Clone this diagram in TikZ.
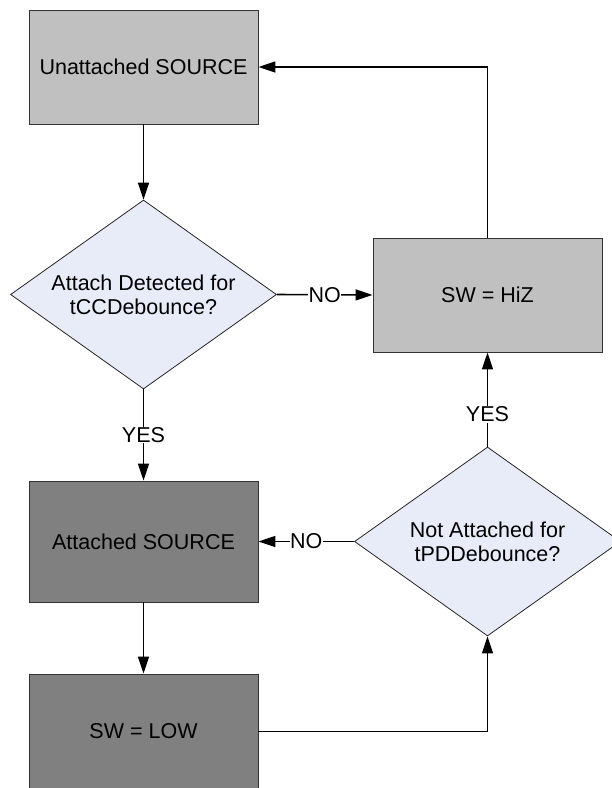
\documentclass[tikz,border=0pt]{standalone}
\usepackage{fontspec}
\setmainfont{Liberation Sans}
\usetikzlibrary{shapes.geometric,arrows.meta}
\definecolor{lightbox}{HTML}{C0C0C0}
\definecolor{darkbox}{HTML}{808080}
\definecolor{diafill}{HTML}{E8ECF8}
\begin{document}
\begin{tikzpicture}[x=1pt,y=-1pt,
  every node/.style={font=\fontsize{21.5}{24}\selectfont},
  box/.style={draw=black!80, line width=0.9pt, rectangle, inner sep=0pt, minimum width=229pt, align=center},
  dia/.style={draw=black!85, line width=0.8pt, diamond, fill=diafill, inner sep=0pt, shape aspect=1.41, minimum width=266pt, minimum height=189pt, align=center},
  conn/.style={line width=1.6pt, -{Triangle[length=17pt,width=11pt]}},
  lbl/.style={fill=white, inner sep=0.6pt}]
\useasboundingbox (0,0) rectangle (612,788);
\node[box, fill=lightbox, minimum height=114pt] (b1) at (143.5,67) {Unattached SOURCE};
\node[box, fill=lightbox, minimum height=114pt] (b2) at (487.5,295) {SW = HiZ};
\node[box, fill=darkbox, minimum height=121pt] (b3) at (143.5,541.5) {Attached SOURCE};
\node[box, fill=darkbox, minimum height=115pt] (b4) at (143.5,731.5) {SW = LOW};
\node[dia] (d1) at (143.5,294.5) {Attach Detected for\\tCCDebounce?};
\node[dia] (d2) at (487.5,541.5) {Not Attached for\\tPDDebounce?};
\draw[conn] (b1.south) -- (d1.north);
\draw[conn] (d1.east) -- node[lbl] {NO} (b2.west);
\draw[conn] (d1.south) -- node[lbl] {YES} (b3.north);
\draw[conn] (b3.south) -- (b4.north);
\draw[conn] (b4.east) -| (d2.south);
\draw[conn] (d2.west) -- node[lbl] {NO} (b3.east);
\draw[conn] (d2.north) -- node[lbl, pos=0.34] {YES} (b2.south);
\draw[conn] (b2.north) |- (b1.east);
\end{tikzpicture}
\end{document}
